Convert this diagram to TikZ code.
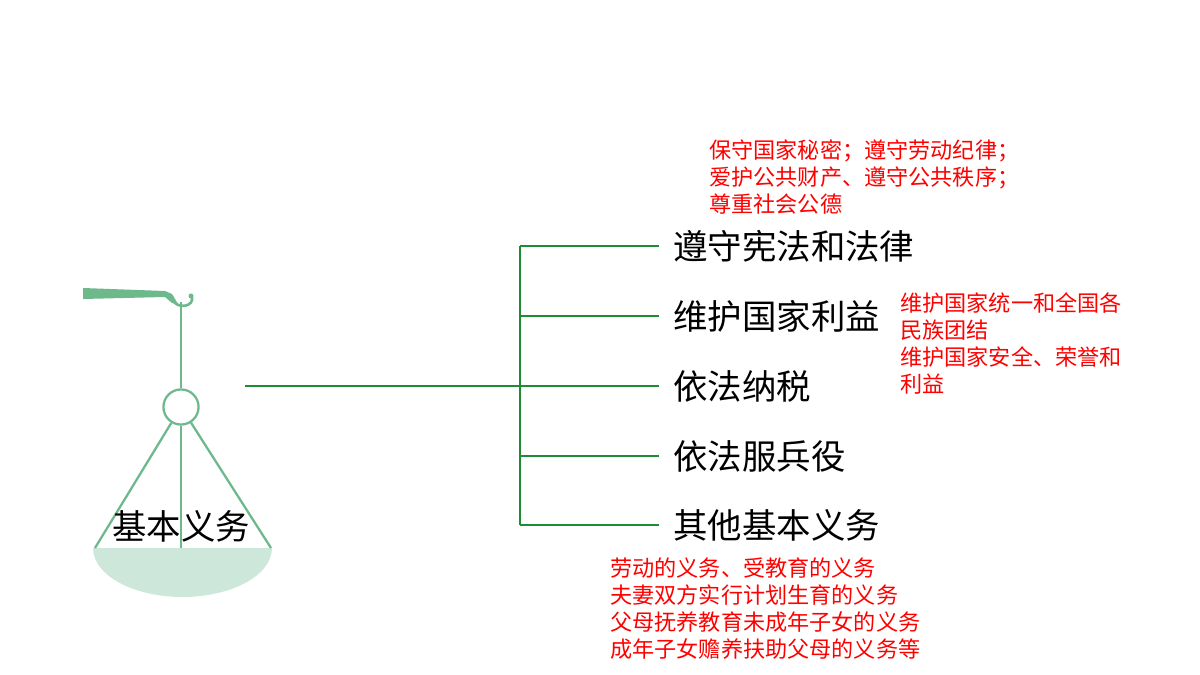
\documentclass[tikz,border=0pt]{standalone}
\usepackage{fontspec}
\newfontfamily\cjk{Noto Sans CJK SC}
\definecolor{scalegreen}{RGB}{110,185,140}
\definecolor{panfill}{RGB}{205,232,218}
\definecolor{treegreen}{RGB}{30,140,50}
\begin{document}
\begin{tikzpicture}[x=0.02cm,y=-0.02cm,
    branch/.style={anchor=west,font=\cjk\fontsize{19.6}{22}\selectfont,inner sep=0pt},
    note/.style={anchor=north west,align=left,text=red,font=\cjk\fontsize{12.6}{15.4}\selectfont,inner sep=0pt},
    scaleline/.style={draw=scalegreen,line width=1.3pt}]
\useasboundingbox (0,0) rectangle (1200,675);
% scale
\fill[scalegreen] (83,288) -- (165,291) -- (172,294) -- (178,304) -- (172,303) -- (165,297) -- (83,299) -- cycle;
\draw[scalegreen,line width=1.5pt] (174,302) .. controls (180,309) and (194,306) .. (192,297);
\fill[scalegreen] (191,296) circle[radius=2.5];
\fill[panfill] (93,548) arc[start angle=180,end angle=0,x radius=89.5,y radius=49] -- cycle;
\node[circle,scaleline,minimum size=20,inner sep=0pt] (ring) at (181,407) {};
\coordinate (hook) at (181,302);
\coordinate (panl) at (95,548);
\coordinate (panr) at (271,548);
\coordinate (panc) at (181,548);
\draw[scaleline] (hook) -- (ring);
\draw[scaleline] (ring) -- (panl);
\draw[scaleline] (ring) -- (panr);
\draw[scaleline] (ring) -- (panc);
\node[font=\cjk\fontsize{19.6}{22}\selectfont,inner sep=0pt] (root) at (181,526) {基本义务};
% tree
\coordinate (start) at (245,386);
\coordinate (fork) at (520,386);
\draw[treegreen,line width=1.3pt] (start) -- (fork);
\draw[treegreen,line width=1.3pt] (520,246) -- (520,525);
\node[branch] (b1) at (673,246) {遵守宪法和法律};
\node[branch] (b2) at (673,316) {维护国家利益};
\node[branch] (b3) at (673,386) {依法纳税};
\node[branch] (b4) at (673,456) {依法服兵役};
\node[branch] (b5) at (673,525) {其他基本义务};
\foreach \n/\y in {b1/246,b2/316,b3/386,b4/456,b5/525}
  \draw[treegreen,line width=1.3pt] (520,\y) -- ([xshift=-8]\n.west);
\node[note] (n1) at (709,139) {保守国家秘密；遵守劳动纪律；\\爱护公共财产、遵守公共秩序；\\尊重社会公德};
\node[note] (n2) at (900,292) {维护国家统一和全国各\\民族团结\\维护国家安全、荣誉和\\利益};
\node[note] (n3) at (610,557) {劳动的义务、受教育的义务\\夫妻双方实行计划生育的义务\\父母抚养教育未成年子女的义务\\成年子女赡养扶助父母的义务等};
\end{tikzpicture}
\end{document}
